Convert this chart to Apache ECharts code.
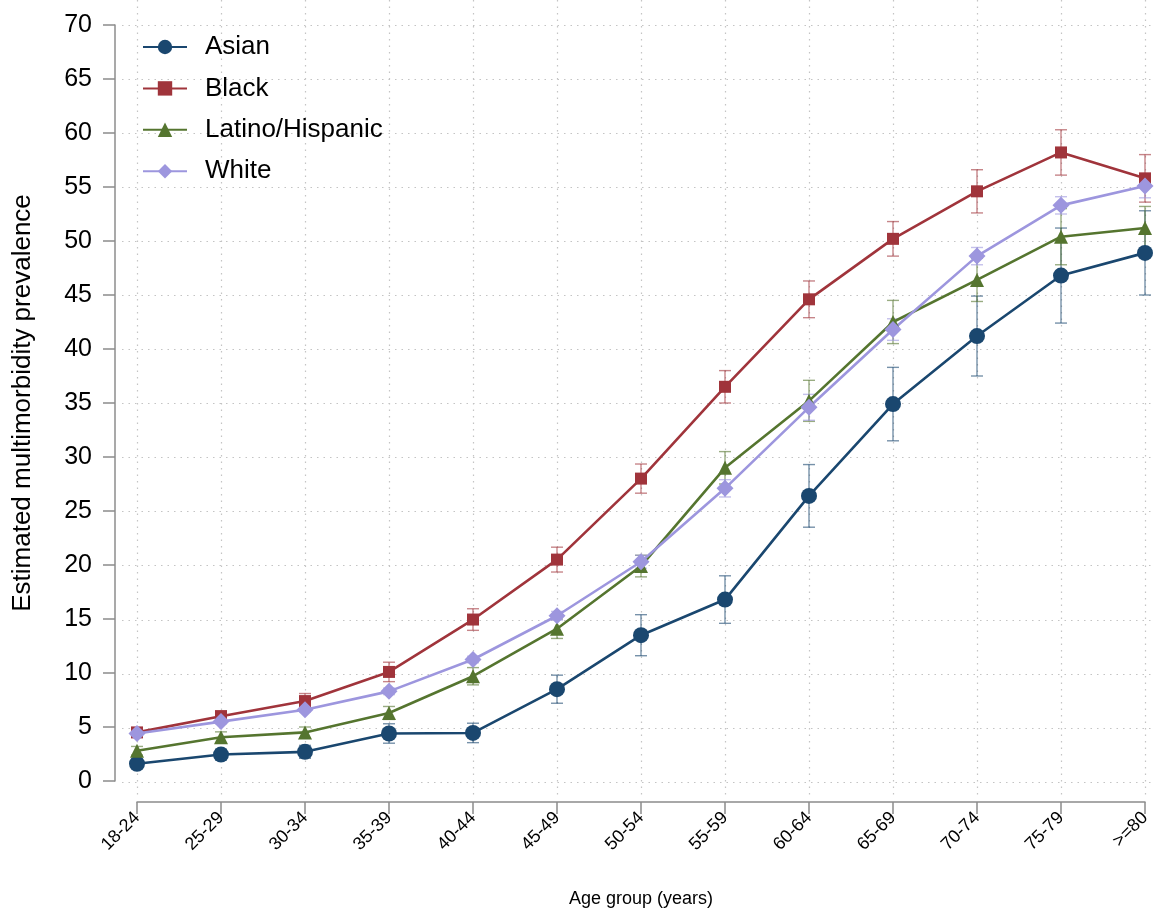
<!DOCTYPE html>
<html>
<head>
<meta charset="utf-8">
<script src="https://cdn.jsdelivr.net/npm/echarts@6/dist/echarts.min.js"></script>
<style>html,body{margin:0;padding:0;background:#fff}#c{width:1154px;height:913px}</style>
</head>
<body>
<div id="c"></div>
<script>
const categories = ['18-24','25-29','30-34','35-39','40-44','45-49','50-54','55-59','60-64','65-69','70-74','75-79','>=80'];
const asian     = [1.6, 2.45, 2.7, 4.4, 4.45, 8.5, 13.5, 16.8, 26.4, 34.9, 41.2, 46.8, 48.9];
const asianErr  = [0.4, 0.5, 0.6, 0.9, 0.9, 1.3, 1.9, 2.2, 2.9, 3.4, 3.7, 4.4, 3.9];
const black     = [4.5, 6.0, 7.4, 10.1, 14.95, 20.5, 28.0, 36.5, 44.6, 50.2, 54.6, 58.2, 55.8];
const blackErr  = [0.4, 0.5, 0.7, 0.9, 1.0, 1.15, 1.35, 1.5, 1.7, 1.6, 2.0, 2.1, 2.2];
const latino    = [2.8, 4.05, 4.5, 6.3, 9.7, 14.1, 19.9, 29.0, 35.2, 42.5, 46.4, 50.4, 51.2];
const latinoErr = [0.4, 0.5, 0.5, 0.6, 0.8, 0.9, 1.0, 1.5, 1.9, 2.0, 2.0, 2.6, 2.0];
const white     = [4.4, 5.5, 6.6, 8.3, 11.25, 15.3, 20.3, 27.1, 34.6, 41.8, 48.6, 53.3, 55.1];
const whiteErr  = [0.2, 0.2, 0.2, 0.3, 0.3, 0.4, 0.6, 0.8, 1.2, 1.0, 0.8, 0.8, 1.1];
const yTicks = [0,5,10,15,20,25,30,35,40,45,50,55,60,65,70];

const FONT = 'Liberation Sans, Arial, Helvetica, sans-serif';
const groups = [
  {name:'Asian', vals:asian, err:asianErr, color:'#1a476f', symbol:'circle', size:16},
  {name:'Black', vals:black, err:blackErr, color:'#a0343b', symbol:'rect', size:12},
  {name:'Latino/Hispanic', vals:latino, err:latinoErr, color:'#55752f', symbol:'triangle', size:14},
  {name:'White', vals:white, err:whiteErr, color:'#9d96de', symbol:'diamond', size:17}
];

const gridLine = {show:true, lineStyle:{color:'#c4c4c4', type:[1.5,5], width:1.2}};

const series = [];
groups.forEach(g => {
  series.push({
    type:'custom', xAxisIndex:0, yAxisIndex:0, z:2, silent:true,
    data: g.vals.map((v,i)=>[i, v-g.err[i], v+g.err[i]]),
    encode:{x:0, y:[1,2]},
    renderItem:(params, api)=>{
      const lo = api.coord([api.value(0), api.value(1)]);
      const hi = api.coord([api.value(0), api.value(2)]);
      const w = 6;
      const st = {stroke:g.color, lineWidth:1.4, opacity:0.6};
      return {type:'group', children:[
        {type:'line', shape:{x1:lo[0],y1:lo[1],x2:hi[0],y2:hi[1]}, style:st},
        {type:'line', shape:{x1:lo[0]-w,y1:lo[1],x2:lo[0]+w,y2:lo[1]}, style:st},
        {type:'line', shape:{x1:hi[0]-w,y1:hi[1],x2:hi[0]+w,y2:hi[1]}, style:st}
      ]};
    }
  });
});
groups.forEach(g => {
  series.push({
    name:g.name, type:'line', xAxisIndex:0, yAxisIndex:0, z:3,
    data:g.vals, symbol:g.symbol, symbolSize:g.size, showSymbol:true,
    color:g.color, lineStyle:{width:2.6, color:g.color}, itemStyle:{color:g.color},
    animation:false
  });
});

const chart = echarts.init(document.getElementById('c'), null, {renderer:'canvas'});
chart.setOption({
  animation:false,
  backgroundColor:'#fff',
  textStyle:{fontFamily:FONT},
  grid:[
    {left:137, right:9, top:25, bottom:131},
    {left:137, right:9, top:0, bottom:118},
    {left:122, right:2, top:25, bottom:131}
  ],
  legend:{
    orient:'vertical', left:137, top:29, itemWidth:44, itemHeight:18, itemGap:15.4,
    data:groups.map(g=>g.name),
    textStyle:{fontSize:26, color:'#000', fontFamily:FONT, padding:[0,0,0,13]}
  },
  xAxis:[
    {type:'category', gridIndex:0, data:categories, boundaryGap:false, offset:21,
     axisLine:{show:true, onZero:false, lineStyle:{color:'#8c8c8c', width:1.5}},
     axisTick:{show:true, alignWithLabel:true, length:12, lineStyle:{color:'#8c8c8c', width:1.5}},
     axisLabel:{rotate:45, fontSize:18, color:'#000', margin:13, interval:0, fontFamily:FONT},
     splitLine:{show:false},
     name:'Age group (years)', nameLocation:'middle', nameGap:88,
     nameTextStyle:{fontSize:18, color:'#000', fontFamily:FONT}},
    {type:'category', gridIndex:1, data:categories, boundaryGap:false,
     axisLine:{show:false}, axisTick:{show:false}, axisLabel:{show:false}, splitLine:gridLine},
    {type:'value', gridIndex:2, min:0, max:1, show:true,
     axisLine:{show:false}, axisTick:{show:false}, axisLabel:{show:false}, splitLine:{show:false}}
  ],
  yAxis:[
    {type:'value', gridIndex:0, min:yTicks[0], max:yTicks[yTicks.length-1], interval:5, offset:22,
     axisLine:{show:true, lineStyle:{color:'#8c8c8c', width:1.5}},
     axisTick:{show:true, length:12, lineStyle:{color:'#8c8c8c', width:1.5}},
     axisLabel:{fontSize:25, color:'#000', margin:23, fontFamily:FONT},
     splitLine:{show:false},
     name:'Estimated multimorbidity prevalence', nameLocation:'middle', nameGap:79,
     nameTextStyle:{fontSize:26, color:'#000', fontFamily:FONT}},
    {type:'value', gridIndex:1, min:0, max:1,
     axisLine:{show:false}, axisTick:{show:false}, axisLabel:{show:false}, splitLine:{show:false}},
    {type:'value', gridIndex:2, min:yTicks[0], max:yTicks[yTicks.length-1], interval:5,
     axisLine:{show:false}, axisTick:{show:false}, axisLabel:{show:false}, splitLine:gridLine}
  ],
  series:series
});
</script>
</body>
</html>
